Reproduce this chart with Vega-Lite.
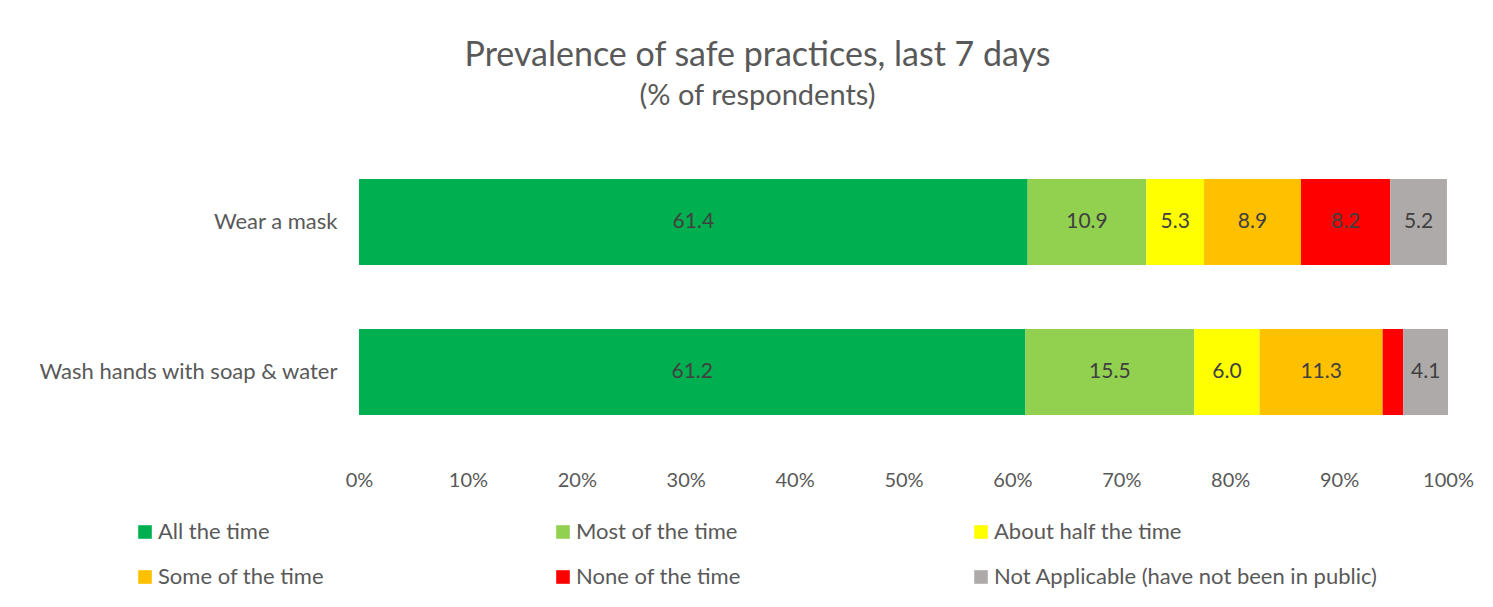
{
  "$schema": "https://vega.github.io/schema/vega-lite/v6.json",
  "width": 1089,
  "height": 300,
  "autosize": {"type": "none"},
  "padding": {"left": 359, "top": 147, "right": 45, "bottom": 160},
  "background": "white",
  "config": {
    "font": "Lato",
    "view": {"stroke": null}
  },
  "title": {
    "text": "Prevalence of safe practices, last 7 days",
    "subtitle": "(% of respondents)",
    "anchor": "middle",
    "frame": "group",
    "dx": -146,
    "offset": 36,
    "fontSize": 34,
    "fontWeight": "normal",
    "color": "#595959",
    "subtitleFontSize": 29,
    "subtitleColor": "#595959",
    "subtitlePadding": 9
  },
  "data": {
    "values": [
      {"practice": "Wear a mask", "response": "All the time", "value": 61.4},
      {"practice": "Wear a mask", "response": "Most of the time", "value": 10.9},
      {"practice": "Wear a mask", "response": "About half the time", "value": 5.3},
      {"practice": "Wear a mask", "response": "Some of the time", "value": 8.9},
      {"practice": "Wear a mask", "response": "None of the time", "value": 8.2},
      {"practice": "Wear a mask", "response": "Not Applicable (have not been in public)", "value": 5.2},
      {"practice": "Wash hands with soap & water", "response": "All the time", "value": 61.2},
      {"practice": "Wash hands with soap & water", "response": "Most of the time", "value": 15.5},
      {"practice": "Wash hands with soap & water", "response": "About half the time", "value": 6.0},
      {"practice": "Wash hands with soap & water", "response": "Some of the time", "value": 11.3},
      {"practice": "Wash hands with soap & water", "response": "None of the time", "value": 1.9},
      {"practice": "Wash hands with soap & water", "response": "Not Applicable (have not been in public)", "value": 4.1}
    ]
  },
  "transform": [
    {"calculate": "indexof(['All the time','Most of the time','About half the time','Some of the time','None of the time','Not Applicable (have not been in public)'], datum.response)", "as": "ord"},
    {"stack": "value", "groupby": ["practice"], "sort": [{"field": "ord", "order": "ascending"}], "as": ["v0", "v1"]},
    {"calculate": "(datum.v0 + datum.v1) / 2", "as": "mid"}
  ],
  "encoding": {
    "y": {
      "field": "practice",
      "type": "nominal",
      "sort": ["Wear a mask", "Wash hands with soap & water"],
      "scale": {"paddingInner": 0.427, "paddingOuter": 0.2135},
      "axis": {
        "title": null,
        "domain": false,
        "ticks": false,
        "labelPadding": 22,
        "labelFontSize": 22,
        "labelColor": "#595959",
        "labelLimit": 400
      }
    }
  },
  "layer": [
    {
      "mark": {"type": "bar"},
      "encoding": {
        "x": {
          "field": "v0",
          "type": "quantitative",
          "scale": {"domain": [0, 100], "nice": false},
          "axis": {
            "title": null,
            "domain": false,
            "ticks": false,
            "grid": false,
            "values": [0, 10, 20, 30, 40, 50, 60, 70, 80, 90, 100],
            "labelExpr": "datum.value + '%'",
            "labelPadding": 23,
            "labelFontSize": 20,
            "labelColor": "#595959",
            "labelFlush": false
          }
        },
        "x2": {"field": "v1"},
        "color": {
          "field": "response",
          "type": "nominal",
          "scale": {
            "domain": ["All the time", "Most of the time", "About half the time", "Some of the time", "None of the time", "Not Applicable (have not been in public)"],
            "range": ["#00B050", "#92D050", "#FFFF00", "#FFC000", "#FF0000", "#AEAAAA"]
          },
          "legend": {
            "title": null,
            "orient": "none",
            "legendX": -225,
            "legendY": 374,
            "direction": "horizontal",
            "columns": 3,
            "gridAlign": "all",
            "symbolType": "square",
            "symbolSize": 185,
            "symbolStrokeWidth": 0,
            "symbolOpacity": 1,
            "labelFontSize": 22,
            "labelColor": "#595959",
            "labelOffset": 2,
            "labelLimit": 500,
            "columnPadding": 10,
            "rowPadding": 23
          }
        }
      }
    },
    {
      "transform": [{"filter": "datum.value > 3"}],
      "mark": {"type": "text", "fontSize": 21, "color": "#404040", "baseline": "middle", "align": "center"},
      "encoding": {
        "x": {"field": "mid", "type": "quantitative"},
        "text": {"field": "value", "type": "quantitative", "format": ".1f"}
      }
    }
  ]
}
